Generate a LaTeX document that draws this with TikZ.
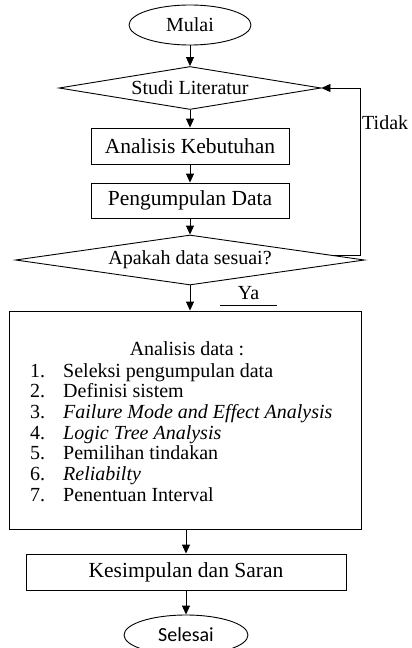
\documentclass[tikz,border=0pt]{standalone}
\usepackage{fontspec}
\setmainfont{Liberation Serif}
\newfontfamily\endfont{Carlito}
\usetikzlibrary{shapes.geometric,arrows.meta}

\begin{document}
\begin{tikzpicture}[x=1pt,y=1pt,
  every node/.style={font=\fontsize{20}{22}\selectfont, inner sep=0pt},
  line/.style={draw, line width=0.9pt},
  term/.style={line, ellipse, minimum width=122pt, minimum height=40pt},
  procbox/.style={line, rectangle, minimum height=36pt, font=\fontsize{21.5}{23}\selectfont},
  choice/.style={line, diamond},
  flow/.style={line width=0.9pt, -{Triangle[length=9pt,width=8pt]}}
]
\useasboundingbox (0,0) rectangle (412,-648);

% main flow
\node[term] (mulai) at (190,-25) {Mulai};
\node[choice, aspect=6.1, minimum width=262pt, minimum height=43pt] (studi) at (190,-88) {Studi Literatur};
\node[procbox, minimum width=198pt] (kebutuhan) at (190,-146) {Analisis Kebutuhan};
\node[procbox, minimum width=198pt, minimum height=35pt] (data) at (190,-200.5) {Pengumpulan Data};
\node[choice, aspect=7, minimum width=349pt, minimum height=50pt] (cek) at (190,-260) {Apakah data sesuai?};

\draw[flow] (mulai) -- (studi);
\draw[flow] (studi) -- (kebutuhan);
\draw[flow] (kebutuhan) -- (data);
\draw[flow] (data) -- (cek);

% loop back when the data does not fit
\draw[flow] (cek.2.5) -- ++(29,0) |- (studi.east);
\node[anchor=west] (tidak) at (362,-123) {Tidak};

% analysis block
\node[line, minimum width=352pt, minimum height=218pt] (analisis) at (185,-420) {};
\draw[flow] (cek.south) -- (cek.south |- analisis.north);
\node[minimum width=57pt, minimum height=24pt] (ya) at (248.5,-293) {Ya};
\draw[line width=0.9pt] (ya.south west) -- (ya.south east);

\node[anchor=base] (judul) at (187,-355) {Analisis data :};
\foreach \i/\t in {1/Seleksi pengumpulan data,
                   2/Definisi sistem,
                   3/\textit{Failure Mode and Effect Analysis},
                   4/\textit{Logic Tree Analysis},
                   5/Pemilihan tindakan,
                   6/\textit{Reliabilty},
                   7/Penentuan Interval} {
  \pgfmathsetmacro\yy{-377-20.7*(\i-1)}
  \node[anchor=base west] (no\i) at (30,\yy) {\i.};
  \node[anchor=base west] (item\i) at (63,\yy) {\t};
}

% closing steps
\node[procbox, minimum width=320pt] (simpul) at (186,-572) {Kesimpulan dan Saran};
\node[term, minimum width=124pt, font=\endfont\fontsize{20}{22}\selectfont] (selesai) at (186,-635) {Selesai};

\draw[flow] (analisis.south -| simpul.north) -- (simpul.north);
\draw[flow] (simpul) -- (selesai);
\end{tikzpicture}
\end{document}
